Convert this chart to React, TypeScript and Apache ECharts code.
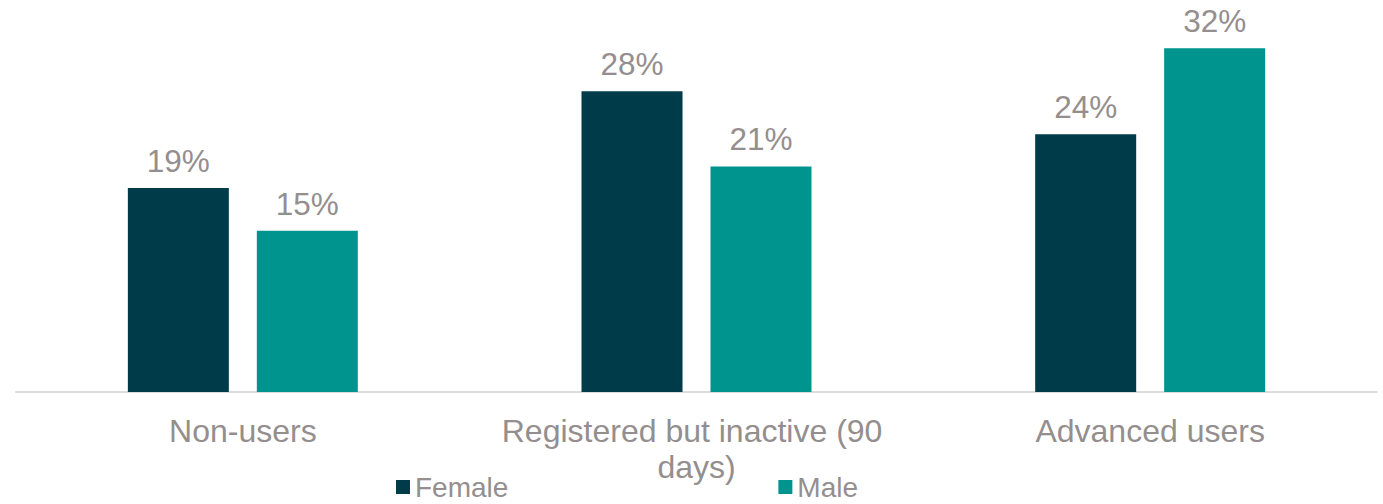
import React, { useEffect, useRef } from "react";
import * as echarts from "echarts";

const categories = ["Non-users", "Registered but inactive (90 days)", "Advanced users"];
const female = [19, 28, 24];
const male = [15, 21, 32];
const seriesNames = ["Female", "Male"];

const GRAY = "#948e8e";
const FONT = "Liberation Sans, Arial, sans-serif";

export default function App() {
  const ref = useRef<HTMLDivElement>(null);
  useEffect(() => {
    if (!ref.current) return;
    const chart = echarts.init(ref.current, undefined, { renderer: "svg" });
    const label = {
      show: true,
      position: "top",
      distance: 11,
      formatter: "{c}%",
      color: GRAY,
      fontSize: 31.5,
      fontFamily: FONT,
    };
    chart.setOption({
      animation: false,
      grid: { left: 16, right: 6, top: 16, bottom: 112 },
      legend: {
        left: 396,
        top: 472,
        padding: 0,
        itemWidth: 14,
        itemHeight: 14,
        itemGap: 270,
        icon: "rect",
        textStyle: { color: GRAY, fontSize: 28, lineHeight: 30, fontFamily: FONT },
        data: seriesNames,
      },
      xAxis: {
        type: "category",
        data: categories,
        axisLine: { lineStyle: { color: "#dcdcdc", width: 2 } },
        axisTick: { show: false },
        axisLabel: {
          color: GRAY,
          fontSize: 32,
          fontFamily: FONT,
          margin: 21,
          lineHeight: 36,
          width: 410,
          overflow: "break",
          interval: 0,
        },
      },
      yAxis: { type: "value", min: 0, max: 35, show: false, splitLine: { show: false } },
      series: [
        {
          name: seriesNames[0],
          type: "bar",
          data: female,
          barWidth: 101,
          barGap: "27.7%",
          itemStyle: { color: "#003b4a" },
          label,
        },
        {
          name: seriesNames[1],
          type: "bar",
          data: male,
          barWidth: 101,
          itemStyle: { color: "#00948f" },
          label,
        },
      ],
    });
    return () => chart.dispose();
  }, []);
  return (
    <div
      ref={ref}
      style={{ position: "fixed", left: 0, top: 0, width: 1383, height: 504, background: "#fff" }}
    />
  );
}
